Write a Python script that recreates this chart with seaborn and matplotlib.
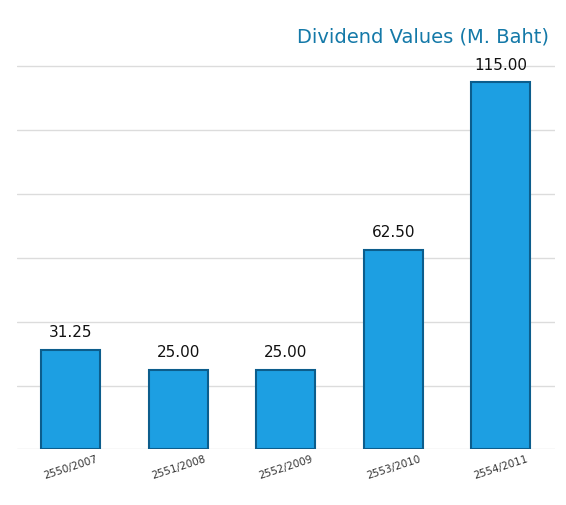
import matplotlib
matplotlib.use("Agg")
import matplotlib.pyplot as plt
import seaborn as sns
import pandas as pd

# dividend values
years = ['2550/2007', '2551/2008', '2552/2009', '2553/2010', '2554/2011']
dividends = [31.25, 25.00, 25.00, 62.50, 115.00]

df = pd.DataFrame({'year': years, 'dividend': dividends})

sns.set_style("white")
plt.rcParams['font.family'] = ['DejaVu Sans']

fig = plt.figure(figsize=(5.66, 5.05), dpi=100)
ax = fig.add_axes([0.03, 0.11, 0.95, 0.79])

sns.barplot(x='year', y='dividend', data=df, color='#1d9fe2', width=0.55,
            edgecolor='#0c5d8c', linewidth=1.5, saturation=1, ax=ax)

# value labels above the bars
for i, v in enumerate(dividends):
    ax.text(i, v + 3, f"{v:.2f}", ha='center', va='bottom', fontsize=11, color='#111111')

ax.set_ylim(0, 125)
ax.set_yticks([0, 20, 40, 60, 80, 100, 120])
ax.set_yticklabels([])
ax.yaxis.grid(True, color='#dcdcdc', linewidth=1)
ax.set_axisbelow(True)
ax.tick_params(axis='both', length=0)
ax.set_xlabel("")
ax.set_ylabel("")
for lbl in ax.get_xticklabels():
    lbl.set_rotation(18)
    lbl.set_fontsize(7.5)
    lbl.set_color('#333333')
sns.despine(ax=ax, left=True, bottom=True)

fig.text(0.97, 0.945, "Dividend Values (M. Baht)", ha='right', va='top',
         fontsize=14, fontweight='medium', color='#1479a8')

fig.savefig("out.png", dpi=100)
